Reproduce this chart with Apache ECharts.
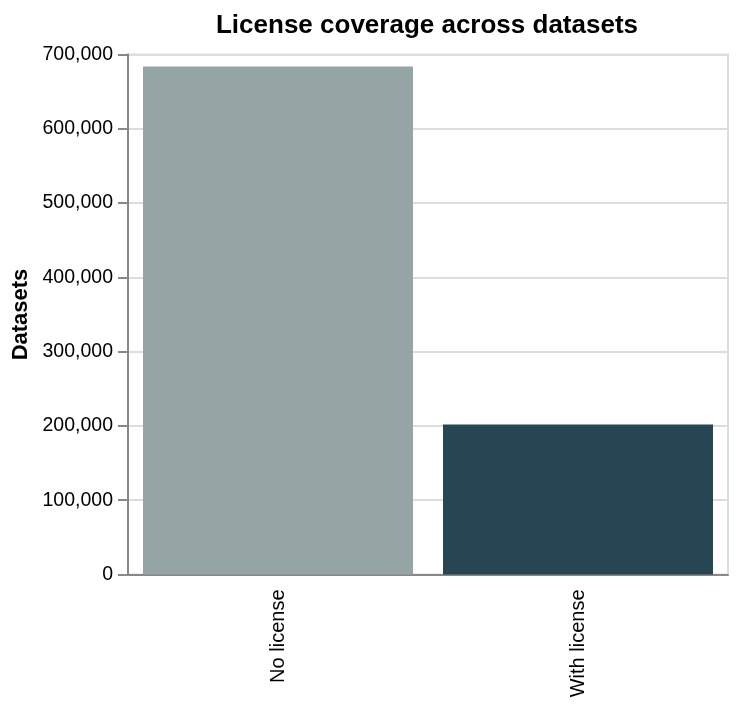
<!DOCTYPE html>
<html>
  <head>
    <title>License coverage</title>
    <meta charset="utf-8">
    <script type="text/javascript" src="https://cdn.jsdelivr.net/npm/echarts@6/dist/echarts.min.js"></script>
    <style>
      html, body { margin: 0; padding: 0; background: #fff; }
    </style>
  </head>
  <body>
    <div id="main" style="width: 738px;height:706px;"></div>

    <script type="text/javascript">
    // data
    var categories = ['No license', 'With license'];
    var datasets = [684000, 202000];
    var barColors = ['#95a5a6', '#264653'];
    var yTicks = [0, 100000, 200000, 300000, 400000, 500000, 600000, 700000];

    var font = 'Liberation Sans, Arial, Helvetica, sans-serif';
    var myChart = echarts.init(document.getElementById('main'), null, { renderer: 'canvas' });

    var option = {
        animation: false,
        backgroundColor: '#fff',
        title: {
            text: 'License coverage across datasets',
            left: 422,
            textAlign: 'center',
            top: 8,
            textStyle: { fontFamily: font, fontSize: 26, fontWeight: 'bold', color: '#000' }
        },
        grid: {
            left: 128, right: 10, top: 54.5, bottom: 131.5,
            show: true, borderColor: '#ddd', borderWidth: 2
        },
        xAxis: {
            type: 'category',
            data: categories,
            axisLine: { lineStyle: { color: '#888', width: 2 } },
            axisTick: { alignWithLabel: true, length: 10, lineStyle: { color: '#888', width: 2 } },
            axisLabel: {
                rotate: 90, margin: 15, color: '#000',
                fontFamily: font, fontSize: 20
            }
        },
        yAxis: {
            type: 'value',
            min: yTicks[0],
            max: yTicks[yTicks.length - 1],
            interval: yTicks[1] - yTicks[0],
            name: 'Datasets',
            nameLocation: 'middle',
            nameGap: 93,
            nameTextStyle: { fontFamily: font, fontSize: 22, fontWeight: 'bold', color: '#000' },
            axisLine: { show: true, lineStyle: { color: '#888', width: 2 } },
            axisTick: { show: true, length: 10, lineStyle: { color: '#888', width: 2 } },
            splitLine: { lineStyle: { color: '#ddd', width: 2 } },
            axisLabel: {
                margin: 15, color: '#000', fontFamily: font, fontSize: 19.5,
                formatter: function (v) { return v.toLocaleString('en-US'); }
            }
        },
        series: [{
            type: 'bar',
            barCategoryGap: '10%',
            data: datasets.map(function (v, i) {
                return { value: v, itemStyle: { color: barColors[i] } };
            })
        }]
    };

    myChart.setOption(option);
    </script>
  </body>
</html>
